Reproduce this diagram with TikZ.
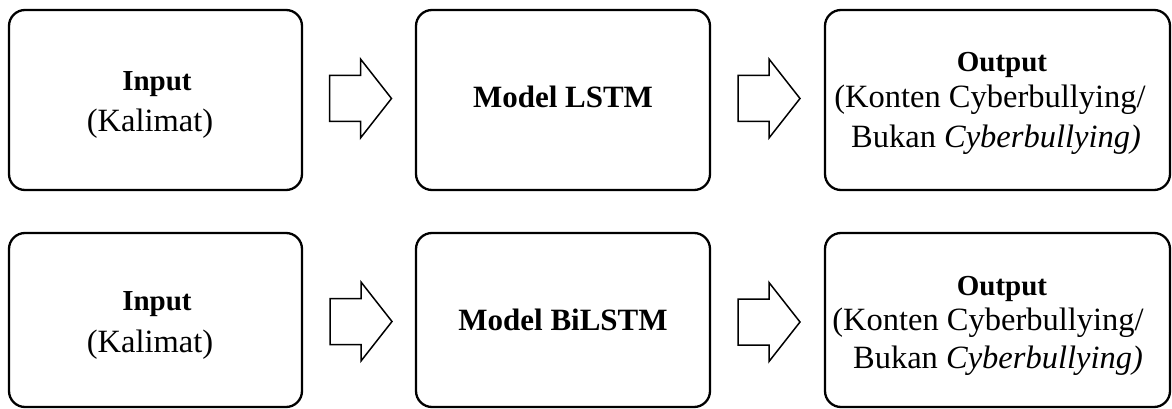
\documentclass[tikz,border=0pt]{standalone}
\usepackage{fontspec}
\setmainfont{Liberation Serif}
\usetikzlibrary{calc}
\begin{document}
\begin{tikzpicture}[x=1pt, y=-1pt,
  stage/.style={draw, line width=2.3pt, rounded corners=16pt, inner sep=0pt, outer sep=0pt},
  title/.style={anchor=base, inner sep=0pt, font=\fontsize{29}{34}\selectfont\bfseries},
  model/.style={anchor=base, inner sep=0pt, font=\fontsize{31}{36}\selectfont\bfseries},
  note/.style={anchor=base, inner sep=0pt, font=\fontsize{32.5}{38}\selectfont},
  arrowline/.style={draw, line width=1.5pt, line join=miter},
  blockarrow/.pic={\path[arrowline] (0,-23) -- (31,-23) -- (31,-39.5) -- (62,0)
                   -- (31,39.5) -- (31,23) -- (0,23) -- cycle;}]
\useasboundingbox (0,0) rectangle (1172,409);

% LSTM pipeline
\node[stage, minimum width=293pt, minimum height=180pt] (in1)  at (155.5,100) {};
\node[stage, minimum width=294pt, minimum height=180pt] (lstm) at (563,100)   {};
\node[stage, minimum width=345pt, minimum height=180pt] (out1) at (997.5,100) {};

\node[title] (in1t)  at (157,90.5) {Input};
\node[note]  (in1s)  at (150,131.5) {(Kalimat)};
\node[model] (lstmt) at (563,108) {Model LSTM};
\node[title] (out1t) at (1002,72) {Output};
\node[note]  (out1a) at (990,108) {(Konten Cyberbullying/};
\node[note]  (out1b) at (996,147) {Bukan \textit{Cyberbullying)}};

\pic at ($(in1.east)+(27.5,-1.5)$) {blockarrow};
\pic at ($(lstm.east)+(28,-1.5)$) {blockarrow};

% BiLSTM pipeline
\node[stage, minimum width=293pt, minimum height=174pt] (in2)    at (155.5,320) {};
\node[stage, minimum width=294pt, minimum height=174pt] (bilstm) at (563,320)   {};
\node[stage, minimum width=345pt, minimum height=174pt] (out2)   at (997.5,320) {};

\node[title] (in2t)    at (157,310) {Input};
\node[note]  (in2s)    at (150,352) {(Kalimat)};
\node[model] (bilstmt) at (563,330) {Model BiLSTM};
\node[title] (out2t)   at (1002,295) {Output};
\node[note]  (out2a)   at (988,330.5) {(Konten Cyberbullying/};
\node[note]  (out2b)   at (998,368.5) {Bukan \textit{Cyberbullying)}};

\pic at ($(in2.east)+(28,1.5)$) {blockarrow};
\pic at ($(bilstm.east)+(28,2)$) {blockarrow};
\end{tikzpicture}
\end{document}
